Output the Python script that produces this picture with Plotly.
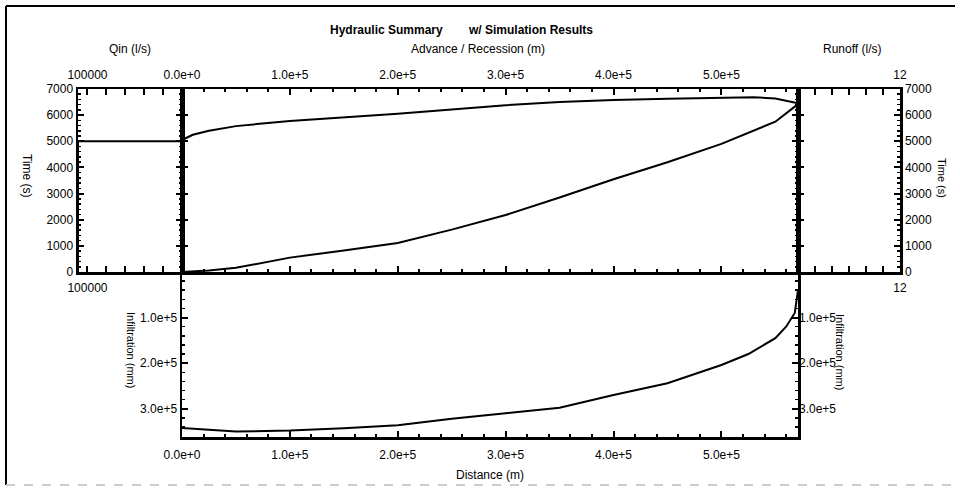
import plotly.graph_objects as go

# ---------------- data ----------------
adv_distance = [0, 25000, 50000, 100000, 150000, 200000, 250000, 300000, 350000,
                400000, 450000, 500000, 550000, 571000]
adv_time = [0, 60, 160, 550, 820, 1110, 1620, 2180, 2850, 3550, 4200, 4900, 5750, 6420]

rec_distance = [0, 10000, 25000, 50000, 100000, 150000, 200000, 250000, 300000,
                350000, 400000, 450000, 500000, 530000, 550000, 571000]
rec_time = [5050, 5250, 5400, 5580, 5780, 5920, 6050, 6220, 6380, 6500, 6580,
            6630, 6650, 6680, 6640, 6450]

inf_distance = [0, 50000, 100000, 150000, 200000, 250000, 300000, 350000, 400000,
                450000, 500000, 525000, 550000, 560000, 568000, 571000]
inf_depth = [342000, 350000, 348000, 343000, 336000, 322000, 310000, 298000, 270000,
             244000, 204000, 180000, 145000, 120000, 90000, 40000]

qin_flow = [110000, 110000, 0]
qin_time = [0, 5000, 5000]

runoff_flow = []   # no runoff visible in the chart
runoff_time = []

dist_ticks = [0, 100000, 200000, 300000, 400000, 500000]
dist_labels = ["0.0e+0", "1.0e+5", "2.0e+5", "3.0e+5", "4.0e+5", "5.0e+5"]
time_ticks = [0, 1000, 2000, 3000, 4000, 5000, 6000, 7000]
qin_ticks = [100000, 80000, 60000, 40000, 20000, 0]
qin_labels = ["100000", "", "", "", "", ""]
run_ticks = [0, 2, 4, 6, 8, 10, 12]
run_labels = ["", "", "", "", "", "", "12"]
inf_ticks = [100000, 200000, 300000]
inf_labels = ["1.0e+5", "2.0e+5", "3.0e+5"]

W, H = 960, 488
def px(x):
    return x / W
def py(y):
    return 1 - y / H

X_QIN = [px(78), px(182)]
X_MAIN = [px(182), px(798)]
X_RUN = [px(798), px(900)]
Y_TOP = [py(272), py(89)]
Y_BOT = [py(437), py(272)]

FAMILY = "Liberation Sans, Arial, sans-serif"
FONT = dict(family=FAMILY, size=12, color="black")
LINE = dict(width=2, color="black")

fig = go.Figure()
fig.add_trace(go.Scatter(x=adv_distance, y=adv_time, mode="lines", line=LINE,
                         xaxis="x2", yaxis="y2", name="Advance"))
fig.add_trace(go.Scatter(x=rec_distance, y=rec_time, mode="lines", line=LINE,
                         xaxis="x2", yaxis="y2", name="Recession"))
fig.add_trace(go.Scatter(x=qin_flow, y=qin_time, mode="lines", line=LINE,
                         xaxis="x", yaxis="y", name="Qin"))
fig.add_trace(go.Scatter(x=inf_distance, y=inf_depth, mode="lines", line=LINE,
                         xaxis="x4", yaxis="y4", name="Infiltration"))
fig.add_trace(go.Scatter(x=runoff_flow, y=runoff_time, mode="lines", line=LINE,
                         xaxis="x3", yaxis="y3", name="Runoff"))
# empty traces that register the label-only overlay axes
fig.add_trace(go.Scatter(x=[], y=[], mode="lines", xaxis="x5", yaxis="y", hoverinfo="skip"))
fig.add_trace(go.Scatter(x=[], y=[], mode="lines", xaxis="x6", yaxis="y3", hoverinfo="skip"))
fig.add_trace(go.Scatter(x=[], y=[], mode="lines", xaxis="x4", yaxis="y5", hoverinfo="skip"))

common = dict(showline=True, linewidth=2.5, linecolor="black", ticks="inside",
              ticklen=6, tickwidth=2, tickcolor="black", showgrid=False,
              zeroline=False, tickfont=FONT, fixedrange=True, automargin=False)
overlay = dict(showline=False, ticks="", showgrid=False, zeroline=False,
               tickfont=FONT, automargin=False, fixedrange=True)
minor_time = dict(ticks="inside", ticklen=3, tickwidth=1.5, tickcolor="black", dtick=200)
minor_dist = dict(ticks="inside", ticklen=3, tickwidth=2, tickcolor="black",
                  dtick=20000, tick0=0)

fig.update_layout(
    template="none",
    width=W, height=H, margin=dict(l=0, r=0, t=0, b=0, autoexpand=False),
    paper_bgcolor="white", plot_bgcolor="white", showlegend=False,
    font=FONT,
    # Qin panel
    xaxis=dict(domain=X_QIN, anchor="y", side="top", range=[110000, 0],
               tickmode="array", tickvals=qin_ticks, ticktext=qin_labels,
               mirror="ticks", ticklabelstandoff=3, **common),
    yaxis=dict(domain=Y_TOP, anchor="x", side="left", range=[0, 7000],
               tickmode="array", tickvals=time_ticks, mirror="ticks",
               minor=minor_time, **common),
    # main advance / recession panel
    xaxis2=dict(domain=X_MAIN, anchor="y2", side="top", range=[0, 571000],
                tickmode="array", tickvals=dist_ticks, ticktext=dist_labels,
                mirror="ticks", ticklabelstandoff=3, minor=minor_dist, **common),
    yaxis2=dict(domain=Y_TOP, anchor="x2", range=[0, 7000], tickmode="array",
                tickvals=time_ticks, showticklabels=False, mirror="ticks",
                minor=minor_time, **common),
    # runoff panel
    xaxis3=dict(domain=X_RUN, anchor="y3", side="top", range=[0, 12],
                tickmode="array", tickvals=run_ticks, ticktext=run_labels,
                mirror="ticks", ticklabelstandoff=3, **common),
    yaxis3=dict(domain=Y_TOP, anchor="x3", side="right", range=[0, 7000],
                tickmode="array", tickvals=time_ticks, mirror="ticks",
                minor=minor_time, **common),
    # infiltration panel
    xaxis4=dict(domain=X_MAIN, anchor="y4", side="bottom", range=[0, 571000],
                tickmode="array", tickvals=dist_ticks, ticktext=dist_labels,
                ticklabelstandoff=5, minor=minor_dist, **common),
    yaxis4=dict(domain=Y_BOT, anchor="x4", side="left", range=[362000, 0],
                tickmode="array", tickvals=inf_ticks, ticktext=inf_labels,
                mirror="ticks",
                minor=dict(ticks="inside", ticklen=3, tickwidth=1.5, tickcolor="black",
                           dtick=20000, tick0=0), **common),
    yaxis5=dict(overlaying="y4", anchor="x4", side="right", range=[362000, 0],
                tickmode="array", tickvals=inf_ticks, ticktext=inf_labels, **overlay),
    xaxis5=dict(overlaying="x", anchor="y", side="bottom", range=[110000, 0],
                tickmode="array", tickvals=qin_ticks, ticktext=qin_labels,
                ticklabelstandoff=7, **overlay),
    xaxis6=dict(overlaying="x3", anchor="y3", side="bottom", range=[0, 12],
                tickmode="array", tickvals=run_ticks, ticktext=run_labels,
                ticklabelstandoff=7, **overlay),
)

def ann(text, x, y, angle=0, bold=False, size=12, xanchor="center"):
    t = "<b>%s</b>" % text if bold else text
    fig.add_annotation(text=t, x=px(x), y=py(y), xref="paper", yref="paper",
                       showarrow=False, textangle=angle,
                       font=dict(family=FAMILY, size=size, color="black"),
                       xanchor=xanchor, yanchor="middle")

ann("Hydraulic Summary", 445, 30, bold=True, xanchor="right")
ann("w/ Simulation Results", 466, 30, bold=True, xanchor="left")
ann("Qin (l/s)", 130, 49)
ann("Advance / Recession (m)", 478, 49)
ann("Runoff (l/s)", 852, 49)
ann("Distance (m)", 490, 475)
ann("Time (s)", 27, 176, angle=90)
ann("Time (s)", 942, 178, angle=90, size=11)
ann("Infiltration (mm)", 131, 350, angle=90, size=11)
ann("Infiltration (mm)", 840, 352, angle=90, size=11)

# outer frame
fig.add_shape(type="line", xref="paper", yref="paper", x0=px(6), x1=px(6),
              y0=py(6), y1=py(485), line=dict(color="black", width=2))
fig.add_shape(type="line", xref="paper", yref="paper", x0=px(6), x1=px(955),
              y0=py(6), y1=py(6), line=dict(color="black", width=2))
fig.add_shape(type="line", xref="paper", yref="paper", x0=px(6), x1=px(955),
              y0=py(485), y1=py(485), line=dict(color="#cccccc", width=2, dash="dash"))

fig.write_html("out.html", config={"displayModeBar": False, "staticPlot": True},
               post_script="document.body.style.margin='0px';document.body.style.overflow='hidden';")
